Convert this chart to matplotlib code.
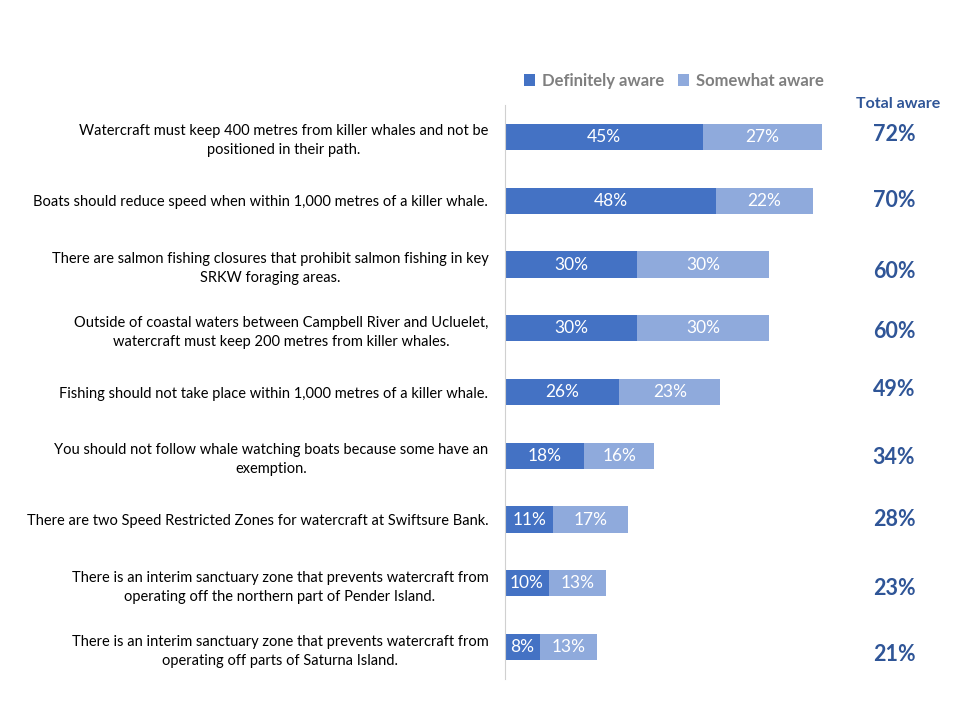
import matplotlib.pyplot as plt
import numpy as np

plt.rcParams['font.family'] = ['Lato', 'DejaVu Sans']

statements = [
    "Watercraft must keep 400 metres from killer whales and not be\npositioned in their path.",
    "Boats should reduce speed when within 1,000 metres of a killer whale.",
    "There are salmon fishing closures that prohibit salmon fishing in key\nSRKW foraging areas.",
    "Outside of coastal waters between Campbell River and Ucluelet,\nwatercraft must keep 200 metres from killer whales.",
    "Fishing should not take place within 1,000 metres of a killer whale.",
    "You should not follow whale watching boats because some have an\nexemption.",
    "There are two Speed Restricted Zones for watercraft at Swiftsure Bank.",
    "There is an interim sanctuary zone that prevents watercraft from\noperating off the northern part of Pender Island.",
    "There is an interim sanctuary zone that prevents watercraft from\noperating off parts of Saturna Island.",
]
definitely = [45, 48, 30, 30, 26, 18, 11, 10, 8]
somewhat = [27, 22, 30, 30, 23, 16, 17, 13, 13]
total = [72, 70, 60, 60, 49, 34, 28, 23, 21]

# small vertical nudges (points) of the total labels, as in the original
total_nudge = [2, 0, -5, -2, 2, -1, 0, -4, -5]

dark = "#4472C4"
light = "#8FAADC"
navy = "#2F5597"

fig = plt.figure(figsize=(9.6, 7.2), dpi=100)
ax = fig.add_axes([0.526, 0.057, 0.458, 0.797])

y = np.arange(len(statements))
h = 0.41
b1 = ax.barh(y, definitely, height=h, color=dark, label="Definitely aware")
b2 = ax.barh(y, somewhat, left=definitely, height=h, color=light, label="Somewhat aware")

for bars, vals in ((b1, definitely), (b2, somewhat)):
    for bar, v in zip(bars, vals):
        ax.text(bar.get_x() + bar.get_width() / 2, bar.get_y() + bar.get_height() / 2,
                f"{v}%", ha="center", va="center", color="white", fontsize=12.5)

for yi, t, n in zip(y, total, total_nudge):
    ax.annotate(f"{t}%", xy=(88.5, yi), xytext=(0, n), textcoords="offset points",
                ha="center", va="center", color=navy, fontsize=15.5, fontweight="bold")

ax.text(89.5, -0.52, "Total aware", ha="center", va="center", color=navy,
        fontsize=11.5, fontweight="bold", clip_on=False)

ax.set_xlim(0, 100)
ax.set_ylim(len(statements) - 0.5, -0.5)
ax.set_yticks(y)
ax.set_yticklabels(statements, fontsize=10.5, color="#000000",
                   multialignment="center", linespacing=1.45)
ax.tick_params(axis="y", length=0, pad=12)
ax.set_xticks([])
for s in ("top", "right", "bottom"):
    ax.spines[s].set_visible(False)
ax.spines["left"].set_color("#D0D0D0")
ax.spines["left"].set_linestyle((0, (2, 1)))
ax.spines["left"].set_linewidth(0.8)

leg = fig.legend(handles=[b1, b2], loc="center left", bbox_to_anchor=(0.53, 0.888),
                 ncol=2, frameon=False, fontsize=12, handlelength=0.7, handleheight=0.7,
                 handletextpad=0.4, columnspacing=0.8)
for t in leg.get_texts():
    t.set_color("#7F7F7F")
    t.set_fontweight("bold")

fig.savefig("out.png", dpi=100)
